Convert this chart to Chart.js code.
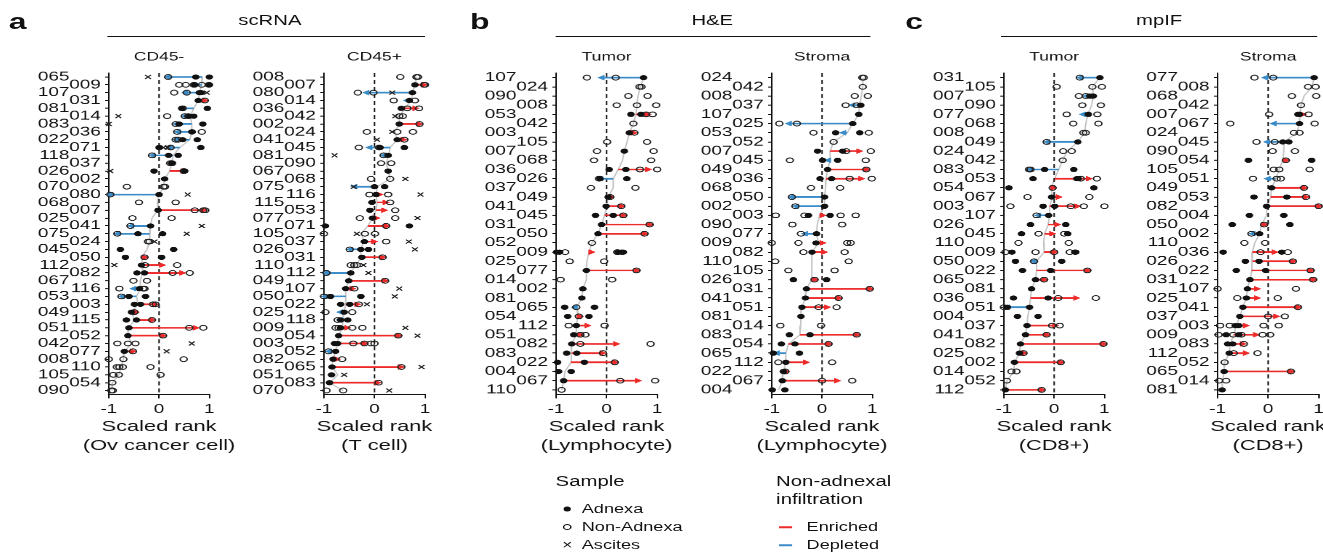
<!DOCTYPE html>
<html>
<head>
<meta charset="utf-8">
<script src="https://cdn.jsdelivr.net/npm/chart.js@4.4.1/dist/chart.umd.min.js"></script>
<style>
html, body { margin:0; padding:0; background:#fff; overflow:hidden; }
body { width:1323px; height:554px; position:relative; font-family:"Liberation Sans", Arial, sans-serif; color:#111; }
/* the reference figure is stretched horizontally, so the whole figure is drawn narrow and scaled */
#fig { position:absolute; left:0; top:0; width:912px; height:554px; transform:scaleX(1.4507); transform-origin:0 0; }
.box { position:absolute; }
.t { position:absolute; white-space:nowrap; line-height:1; transform:translateY(-50%); }
.c { transform:translate(-50%,-50%); }
.rule { position:absolute; height:0; border-top:1px solid #111; }
.dot { position:absolute; width:5px; height:5px; border-radius:50%; background:#111; transform:translate(-50%,-50%); }
.ring { position:absolute; width:4px; height:4px; border-radius:50%; border:1px solid #111; transform:translate(-50%,-50%); }
.seg { position:absolute; height:1.5px; transform:translateY(-50%); }
</style>
</head>
<body>
<div id="fig">
  <div class="t" style="left:6px;top:22px;font-size:22px;font-weight:bold">a</div>
  <div class="t" style="left:324px;top:22px;font-size:22px;font-weight:bold">b</div>
  <div class="t" style="left:624px;top:22px;font-size:22px;font-weight:bold">c</div>

  <div class="t c" style="left:186px;top:20px;font-size:14px">scRNA</div>
  <div class="rule" style="left:74px;width:219px;top:36px"></div>
  <div class="t c" style="left:491px;top:20px;font-size:14px">H&amp;E</div>
  <div class="rule" style="left:383px;width:217px;top:36px"></div>
  <div class="t c" style="left:799px;top:20px;font-size:14px">mpIF</div>
  <div class="rule" style="left:690px;width:218px;top:36px"></div>

  <!-- legend -->
  <div class="t" style="left:383px;top:481px;font-size:14px">Sample</div>
  <div class="dot" style="left:391px;top:509px"></div>
  <div class="t" style="left:401px;top:509px;font-size:12.5px">Adnexa</div>
  <div class="ring" style="left:391px;top:527px"></div>
  <div class="t" style="left:401px;top:527px;font-size:12.5px">Non-Adnexa</div>
  <div class="t c" style="left:391px;top:545px;font-size:12px">×</div>
  <div class="t" style="left:401px;top:545px;font-size:12.5px">Ascites</div>

  <div class="t" style="left:535px;top:481px;font-size:14px">Non-adnexal</div>
  <div class="t" style="left:535px;top:499px;font-size:14px">infiltration</div>
  <div class="seg" style="left:536.5px;width:9.5px;top:527px;background:#ee2b2b"></div>
  <div class="t" style="left:556px;top:527px;font-size:12.5px">Enriched</div>
  <div class="seg" style="left:536.5px;width:9.5px;top:545px;background:#3a8cc8"></div>
  <div class="t" style="left:556px;top:545px;font-size:12.5px">Depleted</div>
</div>
<script>
// ---------------- data (rows top to bottom, values = scaled rank) ----------------
const xTicks = [-1, 0, 1];

// scRNA CD45-
const p1Labels = ['065','009','107','031','081','014','083','036','022','071','118','037','026','002','070','080','068','007','025','041','075','024','045','050','112','082','067','116','053','003','049','115','051','052','042','077','008','110','105','054','090'];
const p1Adnexa = [[0.73,1.0],[0.71,1.0],[0.8,0.84],[0.78],[0.45,0.96],[0.6,0.69],[0.4,0.87],[0.65,0.66],[0.47,0.76],[0.0,0.83],[0.19,0.38],[0.25],[-0.1,0.51],[0.11],[],[0.0],[],[-0.02],[],[-0.17],[-0.42,0.07],[],[-0.77,0.29],[-0.67,0.05],[-0.35],[-0.44,-0.29],[],[-0.39],[-0.6,-0.27],[-0.49,-0.37],[-0.55],[-0.65,-0.45],[-0.6],[-0.62],[],[-0.69],[],[],[],[],[]];
const p1NonAdnexa = [[0.18],[0.4,0.53,0.69,0.85,0.99],[0.3,0.55],[0.91],[0.47],[0.16,0.51,0.58],[0.33],[0.36,0.85],[0.33,0.38],[0.23],[-0.14],[0.22,0.26],[0.49],[],[-0.64,0.09,0.12],[-0.97],[-0.4,0.33],[0.71,0.88,0.92],[-0.53,0.25],[-0.57],[-0.83],[-0.22,-0.19],[],[-0.29],[-0.28,0.36],[0.27,0.61],[-0.51,-0.24],[-0.79,-0.32,-0.29],[-0.75],[-0.12,-0.07],[-0.49],[-0.14],[0.6,0.88],[0.08],[-0.83,-0.62,-0.47],[-0.52],[-1.0,-0.71,0.49],[-0.84,-0.79,-0.72,-0.17],[-0.91,-0.8,0.03],[-0.93],[-0.95,-0.92]];
const p1Ascites = [[-0.22],[],[0.95],[],[],[-0.81],[-1.0],[],[],[0.09,0.17],[],[],[-0.97],[],[],[0.57],[],[],[],[0.85],[0.55],[-0.09],[],[],[-0.89],[],[],[],[],[],[],[],[],[],[0.65],[0.15],[],[],[],[],[]];
const p1ArrowFrom = [0.86,0.85,0.8,0.78,0.69,0.62,0.65,0.65,0.61,0.41,0.28,null,0.21,null,null,0.0,null,-0.02,null,-0.17,-0.19,null,null,-0.35,-0.32,-0.33,null,-0.37,-0.45,-0.42,-0.55,-0.49,-0.6,-0.62,null,-0.69,null,null,null,null,null];
const p1ArrowTo = [0.18,0.7,0.53,0.9,0.47,0.52,0.35,0.38,0.35,0.23,-0.12,null,0.48,null,null,-0.97,null,0.88,null,-0.55,-0.82,null,null,-0.29,0.05,0.45,null,-0.5,-0.73,-0.09,-0.47,-0.14,0.72,0.07,null,-0.53,null,null,null,null,null];

// scRNA CD45+
const p2Labels = ['008','007','080','014','036','042','002','024','041','045','081','090','067','068','075','116','115','053','077','071','105','037','026','031','110','112','049','107','050','022','025','118','009','054','003','052','082','065','051','083','070'];
const p2Adnexa = [[],[0.8],[0.75],[0.69],[0.53],[],[0.49],[],[0.45],[0.11,0.59],[0.27],[],[0.27],[],[0.0,0.2],[0.03],[-0.05],[-0.09],[-0.04],[-0.97,0.69],[],[-0.2],[-0.27,-0.12],[-0.25],[],[-0.47],[-0.51],[-0.57],[-0.87,-0.27],[-0.67,-0.49],[-0.6],[-0.67,-0.53],[-0.67],[-0.71],[-0.79,-0.73],[-0.77],[-0.82],[-0.84],[-0.85],[-0.89],[]];
const p2NonAdnexa = [[0.51,0.83,0.86],[0.98,1.0],[-0.33,-0.02],[0.38,0.8],[0.65,0.88],[0.49,0.56],[0.89],[-0.15,0.45,0.76],[0.59],[-0.31,0.09],[0.18],[0.13,0.33],[],[-0.07,0.31],[],[-0.1,0.27],[0.31],[0.41],[-0.29,0.41],[0.23],[-1.0,-0.19,0.01],[0.23],[-0.49],[0.16],[-0.47,-0.4,-0.35],[-0.95],[0.21],[-0.4],[-1.0],[-0.31],[-0.97,-0.44],[-0.73],[-0.77,-0.71,-0.44,-0.24],[0.47],[-0.42,-0.2,-0.07,0.0],[-0.91],[-0.64],[0.53],[],[0.08],[-0.95,-0.62]];
const p2Ascites = [[],[],[0.35],[],[],[0.41],[],[0.35],[0.05],[],[-0.79],[],[],[0.61],[-0.41],[0.91],[],[],[0.85],[],[-0.35],[0.68],[0.8],[],[-0.22],[-0.12],[],[0.49],[0.4],[-0.15],[],[],[0.61],[0.85],[],[],[],[0.93],[-0.6],[],[0.29]];
const p2ArrowFrom = [null,0.8,0.75,0.73,0.6,null,0.49,null,0.45,0.31,0.28,null,null,null,0.05,0.03,0.05,0.03,-0.04,-0.13,null,-0.2,-0.29,-0.25,null,-0.47,-0.51,-0.57,-0.57,-0.57,-0.6,-0.62,-0.64,-0.71,-0.73,-0.77,-0.82,-0.84,null,-0.89,null];
const p2ArrowTo = [null,0.97,-0.15,0.65,0.8,null,0.88,null,0.56,-0.09,0.19,null,null,null,-0.39,0.09,0.21,0.18,0.03,0.23,null,-0.02,-0.47,0.15,null,-0.95,0.2,-0.45,-0.97,-0.35,-0.67,-0.68,-0.55,0.47,-0.2,-0.89,-0.75,0.51,null,0.05,null];

// H&E Tumor
const p3Labels = ['107','024','090','008','053','042','003','105','007','068','036','026','037','049','041','045','031','050','052','009','025','077','014','002','081','065','054','112','051','082','083','022','004','067','110'];
const p3Adnexa = [[0.73],[],[],[],[0.48,0.68],[],[0.45],[],[0.35],[],[0.05,0.38],[-0.13,0.4],[],[0.03],[-0.01],[-0.22,0.13],[-0.1],[-0.17],[],[-0.99,-0.93,0.23,0.29,0.33],[],[-0.4],[],[-0.47],[-0.49],[-0.83,-0.24],[-0.77,-0.35],[-0.6],[-0.65],[-0.69],[-0.79,-0.59],[-0.97,-0.44],[-0.95,-0.7],[-0.85],[]];
const p3NonAdnexa = [[-0.39,0.18],[0.65,0.69],[0.43,0.81],[0.2,0.6,0.98],[0.78,0.91],[0.53],[0.55],[0.01,0.8],[-0.19,0.93],[-0.25,0.88],[0.66,1.0],[-0.15],[-0.31,0.57],[0.07],[0.29],[0.33],[0.85],[0.75],[-0.29],[-0.82,0.21],[-0.73,-0.05],[0.59],[-0.91,0.11],[],[],[-0.6],[-0.55],[-0.75,-0.04],[-0.52,-0.42],[-0.52,0.87],[-0.07],[0.16],[],[0.27,0.96],[-0.89]];
const p3Ascites = p3Labels.map(() => []);
const p3ArrowFrom = [0.73,null,null,null,0.58,null,0.45,null,null,null,0.23,0.13,null,0.03,0.0,-0.04,-0.1,-0.17,null,-0.35,null,-0.4,null,null,null,-0.59,-0.57,-0.6,-0.6,-0.69,-0.69,-0.71,null,-0.85,null];
const p3ArrowTo = [-0.09,null,null,null,0.8,null,0.53,null,null,null,0.81,-0.12,null,0.08,0.29,0.33,0.85,0.75,null,-0.31,null,0.59,null,null,null,-0.62,-0.54,-0.39,-0.52,0.18,-0.09,0.16,null,0.61,null];

// H&E Stroma
const p4Labels = ['024','042','008','037','107','025','053','052','007','045','049','036','068','050','002','003','090','077','009','082','110','105','026','031','041','051','081','014','083','054','065','112','022','067','004'];
const p4Adnexa = [[],[],[],[0.77],[0.73],[0.61],[0.27,0.75],[],[-0.09,0.41],[0.01,0.31],[0.11],[-0.04,0.19],[],[0.05],[0.05],[-0.27,0.16],[],[-0.11],[-0.12],[-0.2],[],[],[-0.57,0.09],[-0.31],[-0.33],[-0.4],[-0.42],[],[-0.65,-0.24],[-0.81,-0.54],[-0.97,-0.45],[-0.72],[-0.77],[-0.79],[-0.99,-0.74]];
const p4NonAdnexa = [[0.8,0.83],[0.81],[0.65,0.91],[0.47,0.69],[],[-0.85,-0.5],[-0.17,0.93],[0.23],[0.48,0.97],[-0.64,0.87],[0.88],[0.55,0.99],[-0.22,0.36],[-0.6],[-0.53],[-0.92,-0.35,0.37,0.67],[-0.59,0.4],[-0.42],[-1.0,-0.47,0.5,0.57],[-0.37,0.45],[-0.93,0.53],[-0.67,0.25],[-0.15],[0.95],[0.33],[-0.07,0.29],[],[-0.83,-0.02],[0.69],[0.13],[],[-0.87,0.2],[-0.73],[0.0,0.6],[]];
const p4Ascites = p4Labels.map(() => []);
const p4ArrowFrom = [null,null,null,0.75,null,0.61,0.5,null,0.16,0.16,0.11,0.08,null,0.05,0.05,-0.05,null,-0.11,-0.07,-0.2,null,null,-0.2,-0.31,-0.33,-0.4,null,null,-0.44,-0.67,-0.72,-0.72,-0.77,-0.79,null];
const p4ArrowTo = [null,null,null,0.61,null,-0.65,0.43,null,0.73,0.13,0.88,0.77,null,-0.6,-0.51,0.0,null,-0.33,0.0,0.03,null,null,-0.15,0.95,0.33,0.09,null,null,0.69,0.13,-0.89,-0.33,-0.72,0.29,null];

// mpIF Tumor
const p5Labels = ['031','105','007','090','077','068','008','049','024','042','083','053','054','067','003','107','026','045','110','009','050','022','065','081','036','051','004','037','041','082','025','002','014','052','112'];
const p5Adnexa = [[0.91],[],[0.71,0.75,0.78],[],[0.68],[],[],[0.47],[],[],[-0.19,0.39],[-0.42,0.45,0.48],[-0.9,0.79],[-0.05],[-0.22,0.01],[-0.11],[-0.47,0.23],[-0.65,0.27],[],[-0.84,0.41,0.43],[-0.77,0.15],[-0.63,-0.07],[-0.37],[-0.45],[-0.81,-0.12],[-0.93,-0.49],[-0.73,-0.32],[-0.54],[-0.57],[-0.67],[-0.69],[-0.79],[],[],[-0.97]];
const p5NonAdnexa = [[0.51],[0.05,0.76,0.95],[0.49,0.63],[0.56,0.93],[0.25,0.86],[0.38,0.88],[0.58,0.63],[-0.15],[0.18,0.35],[0.17],[-0.5,-0.47],[0.53,0.85],[-0.03],[-0.53,0.7],[-0.87,0.33,0.59,1.0],[-0.35],[],[-0.31,0.2],[-0.71,0.29],[-0.97,-0.37,0.0,0.31],[-0.4],[0.66],[-0.2],[],[0.08,0.83],[-1.0],[],[-0.04,0.11],[-0.15],[0.98],[-0.61],[0.13],[-0.85,-0.75],[-0.94],[-0.25]];
const p5Ascites = p5Labels.map(() => []);
const p5ArrowFrom = [0.91,null,0.78,null,0.67,null,null,0.47,null,null,0.09,0.01,-0.06,-0.03,-0.09,-0.09,-0.12,-0.19,null,-0.2,-0.35,-0.35,-0.37,null,-0.47,-0.49,null,-0.54,-0.57,-0.67,-0.69,-0.79,null,null,-0.97];
const p5ArrowTo = [0.53,null,0.65,null,0.58,null,null,-0.13,null,null,-0.47,0.68,-0.03,0.08,0.45,-0.31,0.05,-0.05,null,0.0,-0.4,0.66,-0.2,null,0.43,-0.93,null,0.01,-0.15,0.98,-0.61,0.13,null,null,-0.25];

// mpIF Stroma
const p6Labels = ['077','008','068','042','007','067','024','045','090','054','105','051','049','053','082','004','050','002','110','036','026','022','031','107','025','041','037','003','009','083','112','052','065','014','081'];
const p6Adnexa = [[0.91],[],[],[],[0.59,0.62],[0.62],[],[0.29,0.41],[],[-0.39,0.86],[],[],[0.07],[-0.28,0.37],[-0.03],[-0.37,0.31],[-0.71,0.43],[-0.17],[],[-0.89,0.27],[-0.45,-0.18],[-0.63,-0.05],[-0.36],[-0.41],[-0.43],[-0.5],[-0.56],[-0.65,-0.58],[-0.83,-0.58],[-0.8,-0.7],[-0.77],[],[-0.87],[],[-0.91]];
const p6NonAdnexa = [[-0.27,0.1],[0.79,0.94],[0.47,0.95],[0.65],[0.02,0.8],[-0.75,0.92],[0.51,0.62],[-0.23,0.13],[0.09,0.53],[0.35],[0.11,0.22,0.82],[-0.3,0.17,0.25],[0.71],[0.75],[1.0],[],[-0.08],[-0.33],[-0.47,-0.06],[-0.15,0.39],[0.49],[0.84],[0.89],[-1.0,0.55],[-0.61,0.19],[0.59],[0.0,0.33],[-0.95,-0.76,-0.09,0.21],[-0.98,-0.69,-0.53,-0.11,0.04],[-0.48],[-0.68,-0.21],[-0.86],[0.45],[-0.97,-0.83],[]];
const p6Ascites = p6Labels.map(() => []);
const p6ArrowFrom = [0.91,null,null,null,0.63,0.62,null,0.31,null,0.29,null,0.15,0.07,0.05,-0.03,null,-0.13,-0.17,null,-0.31,-0.31,-0.33,-0.36,-0.41,-0.43,-0.5,-0.56,-0.63,-0.68,-0.75,-0.77,null,-0.87,null,null];
const p6ArrowTo = [-0.05,null,null,null,0.68,0.12,null,-0.01,null,0.35,null,0.0,0.71,0.74,1.0,null,-0.08,-0.3,null,0.12,0.49,0.84,0.89,-0.23,-0.23,0.59,0.15,-0.45,-0.25,-0.51,-0.45,null,0.45,null,null];

// ---------------- drawing ----------------
const RED = '#ee2b2b';
const BLUE = '#3a8cc8';
const INK = '#111';
const PLOT_W = 69.3;
const SIDE = 50;          // width of the label axis (and of the matching blank axis on the right)
const PAD = '\u2007\u2007\u2007';

Chart.defaults.font.family = '"Liberation Sans", Arial, sans-serif';
Chart.defaults.color = INK;
Chart.defaults.animation = false;

const panels = [
  { axisX: 75.2,  title: 'CD45-',  xTitle: ['Scaled rank', '(Ov cancer cell)'], labels: p1Labels, adx: p1Adnexa, non: p1NonAdnexa, asc: p1Ascites, from: p1ArrowFrom, to: p1ArrowTo },
  { axisX: 223.4, title: 'CD45+',  xTitle: ['Scaled rank', '(T cell)'],          labels: p2Labels, adx: p2Adnexa, non: p2NonAdnexa, asc: p2Ascites, from: p2ArrowFrom, to: p2ArrowTo },
  { axisX: 383.4, title: 'Tumor',  xTitle: ['Scaled rank', '(Lymphocyte)'],      labels: p3Labels, adx: p3Adnexa, non: p3NonAdnexa, asc: p3Ascites, from: p3ArrowFrom, to: p3ArrowTo },
  { axisX: 531.7, title: 'Stroma', xTitle: ['Scaled rank', '(Lymphocyte)'],      labels: p4Labels, adx: p4Adnexa, non: p4NonAdnexa, asc: p4Ascites, from: p4ArrowFrom, to: p4ArrowTo },
  { axisX: 691.7, title: 'Tumor',  xTitle: ['Scaled rank', '(CD8+)'],            labels: p5Labels, adx: p5Adnexa, non: p5NonAdnexa, asc: p5Ascites, from: p5ArrowFrom, to: p5ArrowTo },
  { axisX: 839.3, title: 'Stroma', xTitle: ['Scaled rank', '(CD8+)'],            labels: p6Labels, adx: p6Adnexa, non: p6NonAdnexa, asc: p6Ascites, from: p6ArrowFrom, to: p6ArrowTo }
];

function median(a) {
  const s = [...a].sort((p, q) => p - q);
  const m = s.length >> 1;
  return s.length % 2 ? s[m] : (s[m - 1] + s[m]) / 2;
}

function drawPanel(p) {
  const n = p.labels.length;
  const box = document.createElement('div');
  box.className = 'box';
  box.style.left = (p.axisX - SIDE) + 'px';
  box.style.top = '44px';
  box.style.width = (SIDE * 2 + PLOT_W) + 'px';
  box.style.height = '410.5px';
  const cv = document.createElement('canvas');
  box.appendChild(cv);
  document.getElementById('fig').appendChild(box);

  const pts = arr => arr.flatMap((vals, i) => vals.map(v => ({ x: v, y: i })));

  // arrows: adnexa -> non-adnexa, red when it moves right, blue when left
  const red = [], blue = [], redHead = [], blueHead = [];
  p.from.forEach((f, i) => {
    const t = p.to[i];
    if (f == null || t == null) return;
    const up = t >= f;
    (up ? red : blue).push({ x: f, y: i }, { x: t, y: i }, { x: null, y: null });
    (up ? redHead : blueHead).push({ x: t, y: i });
  });

  // thin grey guide through each row's adnexa position
  const mid = p.labels.map((_, i) => ({
    x: p.from[i] != null ? p.from[i] : median([...p.adx[i], ...p.non[i], ...p.asc[i]]),
    y: i
  }));

  new Chart(cv, {
    type: 'scatter',
    data: {
      datasets: [
        { data: pts(p.adx), pointStyle: 'circle', pointRadius: 2.6, backgroundColor: INK, borderColor: INK, borderWidth: 0, order: 0, clip: false },
        { data: pts(p.non), pointStyle: 'circle', pointRadius: 2.4, backgroundColor: 'rgba(0,0,0,0)', borderColor: '#222', borderWidth: 1, order: 0, clip: false },
        { data: pts(p.asc), pointStyle: 'crossRot', pointRadius: 2.8, borderColor: '#222', borderWidth: 1, order: 0, clip: false },
        { data: red, showLine: true, spanGaps: false, borderColor: RED, borderWidth: 1.7, pointRadius: 0, order: 1, clip: false },
        { data: redHead, pointStyle: 'triangle', pointRotation: 90, pointRadius: 2.9, backgroundColor: RED, borderColor: RED, borderWidth: 0.5, order: 1, clip: false },
        { data: blue, showLine: true, spanGaps: false, borderColor: BLUE, borderWidth: 1.7, pointRadius: 0, order: 1, clip: false },
        { data: blueHead, pointStyle: 'triangle', pointRotation: 270, pointRadius: 2.9, backgroundColor: BLUE, borderColor: BLUE, borderWidth: 0.5, order: 1, clip: false },
        { data: [{ x: 0, y: -0.5 }, { x: 0, y: n - 0.5 }], showLine: true, borderColor: INK, borderWidth: 1, borderDash: [4, 3], pointRadius: 0, order: 2 },
        { data: mid, showLine: true, borderColor: '#c4c4c4', borderWidth: 1, pointRadius: 0, order: 3 }
      ]
    },
    options: {
      responsive: true,
      maintainAspectRatio: false,
      devicePixelRatio: 2,
      events: [],
      layout: { padding: 0 },
      plugins: {
        legend: { display: false },
        tooltip: { enabled: false },
        title: { display: true, text: p.title, font: { size: 12, weight: 'normal', lineHeight: 1.2 }, color: INK, padding: { top: 6, bottom: 8.6 } },
        subtitle: { display: true, position: 'bottom', text: p.xTitle, font: { size: 15, lineHeight: 1.25 }, color: INK, padding: 0 }
      },
      scales: {
        x: {
          type: 'linear', position: 'bottom', min: -1, max: 1,
          afterBuildTicks: s => { s.ticks = xTicks.map(v => ({ value: v })); },
          afterFit: s => { s.height = 23; },
          ticks: { callback: v => String(v), font: { size: 13 }, color: INK, padding: 3, maxRotation: 0 },
          grid: { display: true, drawOnChartArea: false, drawTicks: true, tickLength: 4, color: INK, lineWidth: 1 },
          border: { display: true, color: INK, width: 1 }
        },
        y: {
          type: 'linear', position: 'left', reverse: true, min: -0.5, max: n - 0.5,
          afterBuildTicks: s => { s.ticks = p.labels.map((_, i) => ({ value: i })); },
          afterFit: s => { s.width = SIDE; },
          // two staggered label columns: even rows are pushed left by trailing figure spaces
          ticks: { autoSkip: false, callback: v => (v % 2 === 0 ? p.labels[v] + PAD : p.labels[v]), font: { size: 13 }, color: INK, padding: 3 },
          grid: { display: true, drawOnChartArea: false, drawTicks: true, tickLength: 2.5, color: INK, lineWidth: 1 },
          border: { display: true, color: INK, width: 1 }
        },
        yr: {
          type: 'linear', position: 'right', min: 0, max: 1,
          ticks: { display: false }, grid: { display: false }, border: { display: false },
          afterFit: s => { s.width = SIDE; }
        }
      }
    }
  });
}

panels.forEach(drawPanel);
</script>
</body>
</html>
